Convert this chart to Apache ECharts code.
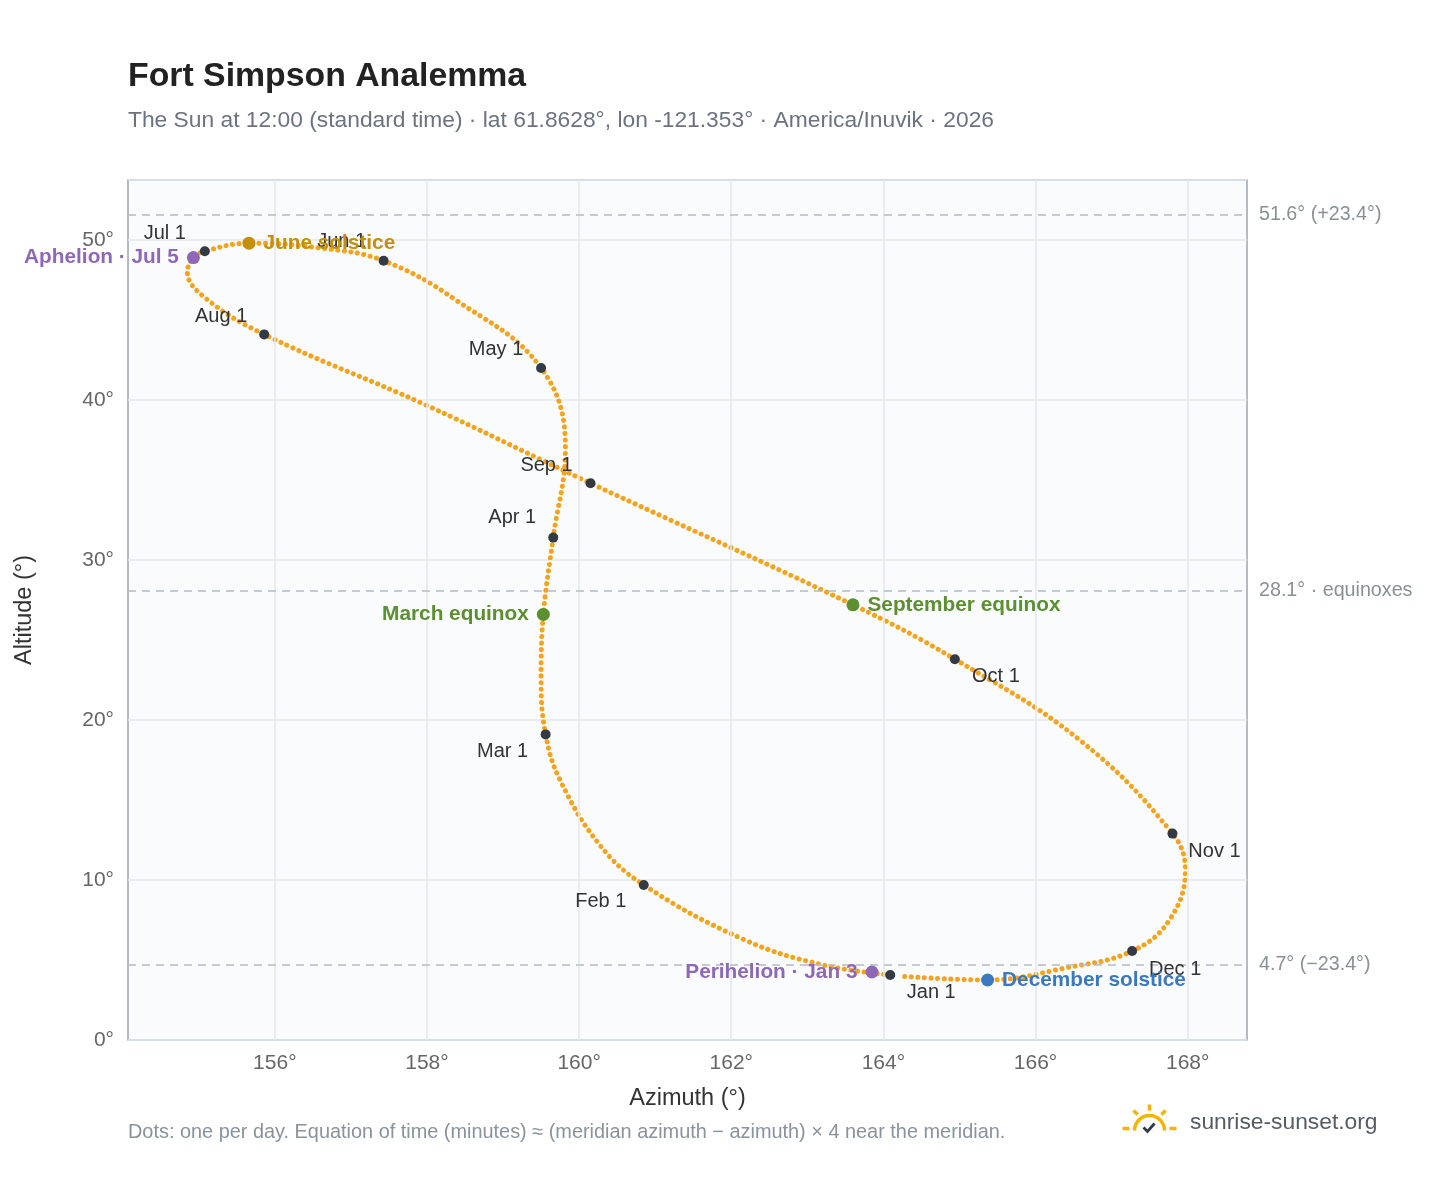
<!DOCTYPE html>
<html><head><meta charset="utf-8">
<script src="https://cdn.jsdelivr.net/npm/echarts@6/dist/echarts.min.js"></script>
<style>html,body{margin:0;padding:0;background:#fff}#c{width:1448px;height:1188px}</style>
</head><body><div id="c"></div>
<script>
// Path of the Sun at noon (estimated from reference)
const pathDates = ['Jan 1','Jan 10','Jan 20','Feb 1','Feb 10','Feb 20','Mar 1','Mar 10','Mar 20','Apr 1','Apr 15','May 1','May 15','Jun 1','Jun 10','Jun 21','Jul 1','Jul 5','Jul 12','Jul 20','Aug 1','Aug 15','Sep 1','Sep 22','Oct 1','Oct 15','Nov 1','Nov 10','Nov 20','Dec 1','Dec 10','Dec 21','Dec 31'];
const pathAz  = [164.09,163.20,162.18,160.85,160.27,159.75,159.56,159.50,159.53,159.66,159.82,159.50,158.38,157.43,156.60,155.66,155.08,154.93,154.85,155.08,155.86,157.98,160.15,163.60,164.94,166.58,167.80,167.97,167.76,167.27,166.39,165.37,164.20];
const pathAlt = [4.06,4.70,6.25,9.69,12.20,16.25,19.10,22.50,26.60,31.40,36.90,42.00,46.25,48.70,49.50,49.80,49.30,48.90,48.00,46.40,44.10,39.70,34.80,27.20,23.80,18.75,12.90,10.60,7.50,5.56,4.50,3.75,4.00];

const monthNames = ['Jan 1','Feb 1','Mar 1','Apr 1','May 1','Jun 1','Jul 1','Aug 1','Sep 1','Oct 1','Nov 1','Dec 1'];
const monthAz  = [164.09,160.85,159.56,159.66,159.50,157.43,155.08,155.86,160.15,164.94,167.80,167.27];
const monthAlt = [4.06,9.69,19.10,31.40,42.00,48.70,49.30,44.10,34.80,23.80,12.90,5.56];

const eventNames = ['Aphelion · Jul 5','June solstice','March equinox','September equinox','Perihelion · Jan 3','December solstice'];
const eventAz  = [154.93,155.66,159.53,163.60,163.85,165.37];
const eventAlt = [48.90,49.80,26.60,27.20,4.25,3.75];

const refAlt = [51.6,28.1,4.7];
const refLabels = ['51.6° (+23.4°)','28.1° · equinoxes','4.7° (−23.4°)'];
const xTicks = [156,158,160,162,164,166,168];

const monthOffsets = [[41,17],[-43,17],[-43,17],[-41,-20],[-45,-19],[-42,-19],[-40,-18],[-43,-18],[-44,-18],[41,17],[42,18],[43,18]];
const eventStyle = [
  {c:'#8e68b6',p:'left'},{c:'#c48f0c',p:'right'},{c:'#5b8f2f',p:'left'},
  {c:'#5b8f2f',p:'right'},{c:'#8e68b6',p:'left'},{c:'#3c78c0',p:'right'}];

const F = 'Liberation Sans, Arial, sans-serif';
const chart = echarts.init(document.getElementById('c'));
chart.setOption({
  animation:false,
  textStyle:{fontFamily:F},
  title:[{text:'Fort Simpson Analemma',left:123,top:55,textStyle:{fontSize:33.8,fontWeight:'bold',color:'#222',fontFamily:F}},
    {text:'The Sun at 12:00 (standard time) · lat 61.8628°, lon -121.353° · America/Inuvik · 2026',left:123,top:104,textStyle:{fontSize:22.8,fontWeight:'normal',color:'#6b7280',fontFamily:F}}],
  grid:{left:128,top:180,right:201,bottom:148,show:true,backgroundColor:'#f9fbfd',borderColor:'#9aa5b4',borderWidth:1.5},
  xAxis:{type:'value',min:154.07,max:168.78,name:'Azimuth (°)',nameLocation:'middle',nameGap:47,
    nameTextStyle:{fontSize:23.5,color:'#333'},
    axisLine:{show:false},axisTick:{show:false},splitLine:{show:false},
    axisLabel:{customValues:xTicks,formatter:v=>Math.round(v)+'°',fontSize:21,color:'#666',margin:13}},
  yAxis:{type:'value',min:0,max:53.75,interval:10,name:'Altitude (°)',nameLocation:'middle',nameGap:91,
    nameTextStyle:{fontSize:23.5,color:'#333'},
    axisLine:{show:false},axisTick:{show:false},
    splitLine:{lineStyle:{color:'#e3e8ee',width:1.5}},
    axisLabel:{formatter:v=>v+'°',fontSize:21,color:'#666',margin:14,showMaxLabel:false}},
  series:[
    {type:'line',data:[],silent:true,
      markLine:{silent:true,symbol:'none',label:{show:false},lineStyle:{color:'#e3e8ee',type:'solid',width:1.5},
        data:xTicks.map(v=>({xAxis:v}))}},
    {type:'line',data:[],silent:true,
      markLine:{silent:true,symbol:'none',lineStyle:{color:'#b4bcc6',type:[8,6],width:1.5},
        label:{position:'end',distance:12,color:'#8a8f96',fontSize:19.7,fontFamily:F},
        data:refAlt.map((v,i)=>({yAxis:v,label:{formatter:refLabels[i]}}))}},
    {type:'line',smooth:0.4,showSymbol:false,z:3,
      data:pathAz.map((a,i)=>[a,pathAlt[i]]),
      lineStyle:{color:'#f5a31c',width:5,type:[0.1,6.5],cap:'round'}},
    {type:'scatter',symbolSize:10,z:5,itemStyle:{color:'#333a44',opacity:1},
      data:monthNames.map((n,i)=>({value:[monthAz[i],monthAlt[i]],
        label:{show:true,formatter:n,position:'inside',offset:monthOffsets[i],color:'#333',fontSize:20,fontFamily:F}}))},
    {type:'scatter',symbolSize:13,z:6,
      data:eventNames.map((n,i)=>({value:[eventAz[i],eventAlt[i]],itemStyle:{color:eventStyle[i].c,opacity:1},
        label:{show:true,formatter:n,position:eventStyle[i].p,distance:8,color:eventStyle[i].c,fontSize:20.8,fontWeight:'bold',fontFamily:F}}))}
  ],
  graphic:[
    {type:'text',left:128,top:1123,style:{text:'Dots: one per day. Equation of time (minutes) ≈ (meridian azimuth − azimuth) × 4 near the meridian.',fill:'#8a929c',fontSize:19.9,fontFamily:F}},
    {type:'text',left:1190,top:1111,style:{text:'sunrise-sunset.org',fill:'#555c66',fontSize:22.8,fontFamily:F}},
    {type:'group',left:1120,top:1102,children:[
      {type:'arc',shape:{cx:28,cy:28,r:15,startAngle:Math.PI,endAngle:2*Math.PI},style:{stroke:'#f5b400',lineWidth:3.5,fill:null}},
      {type:'line',shape:{x1:28,y1:2,x2:28,y2:8},style:{stroke:'#f5b400',lineWidth:3.5}},
      {type:'line',shape:{x1:12,y1:8,x2:16,y2:12},style:{stroke:'#f5b400',lineWidth:3.5}},
      {type:'line',shape:{x1:44,y1:8,x2:40,y2:12},style:{stroke:'#f5b400',lineWidth:3.5}},
      {type:'line',shape:{x1:1,y1:26,x2:8,y2:26},style:{stroke:'#f5b400',lineWidth:3.5}},
      {type:'line',shape:{x1:48,y1:26,x2:55,y2:26},style:{stroke:'#f5b400',lineWidth:3.5}},
      {type:'polyline',shape:{points:[[22,25],[26,29],[33,21]]},style:{stroke:'#333a44',lineWidth:2.8,fill:null}}
    ]}
  ]
});
</script></body></html>
